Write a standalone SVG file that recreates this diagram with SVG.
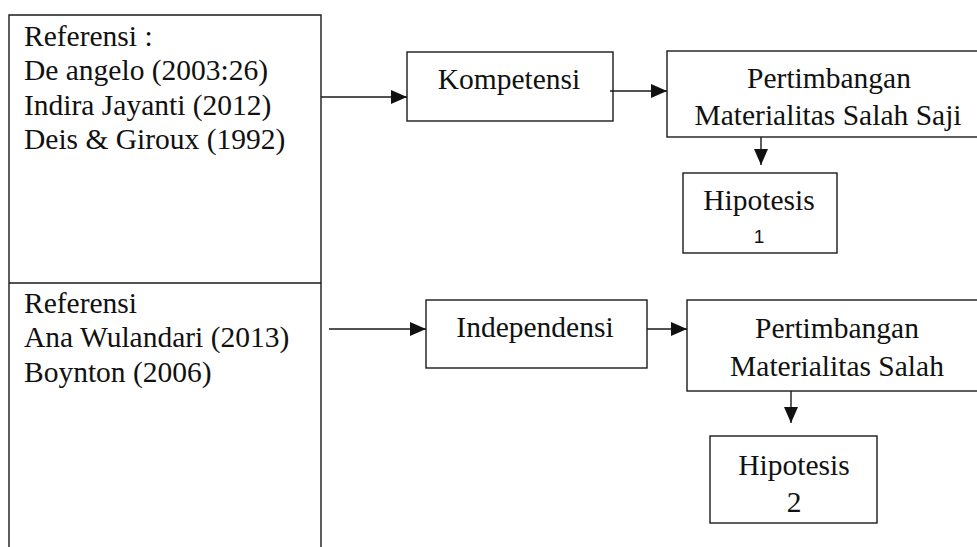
<svg xmlns="http://www.w3.org/2000/svg" width="977" height="547" viewBox="0 0 977 547">
<style>
.box{fill:#fff;stroke:#1a1a1a;stroke-width:1.4}
.t{font-family:"Liberation Serif","Times New Roman",serif;font-size:29.5px;fill:#111}
.c{text-anchor:middle}
.n{font-family:"Liberation Sans",Arial,sans-serif;font-size:19px;fill:#111;text-anchor:middle}
.ln{stroke:#1a1a1a;stroke-width:1.4;fill:none}
</style>
<defs>
<marker id="ah" markerUnits="userSpaceOnUse" markerWidth="16" markerHeight="14" refX="16" refY="7" orient="auto">
<path d="M0,0 L16,7 L0,14 Z" fill="#111"/>
</marker>
</defs>
<rect width="977" height="547" fill="#fff"/>
<g id="ref1">
<path class="ln" d="M9,560 L9,15 L321,15 L321,560"/>
<text class="t" x="24" y="46">Referensi :</text>
<text class="t" x="24" y="80">De angelo (2003:26)</text>
<text class="t" x="24" y="114.5">Indira Jayanti (2012)</text>
<text class="t" x="24" y="149">Deis &amp; Giroux (1992)</text>
</g>
<g id="ref2">
<line class="ln" x1="9" y1="283" x2="321" y2="283"/>
<text class="t" x="24" y="313">Referensi</text>
<text class="t" x="24" y="347">Ana Wulandari (2013)</text>
<text class="t" x="24" y="381.5">Boynton (2006)</text>
</g>
<g id="kompetensi">
<rect class="box" x="407" y="52" width="206" height="69"/>
<text class="t c" x="509" y="89">Kompetensi</text>
</g>
<g id="pms1">
<rect class="box" x="667" y="51" width="330" height="86"/>
<text class="t c" x="829" y="88">Pertimbangan</text>
<text class="t c" x="828" y="125">Materialitas Salah Saji</text>
</g>
<g id="hipotesis1">
<rect class="box" x="683" y="173" width="154" height="80"/>
<text class="t c" x="759" y="210">Hipotesis</text>
<text class="n" x="759" y="243">1</text>
</g>
<g id="independensi">
<rect class="box" x="426" y="300" width="221" height="68"/>
<text class="t c" x="535" y="337">Independensi</text>
</g>
<g id="pms2">
<rect class="box" x="687" y="300" width="310" height="91"/>
<text class="t c" x="837" y="338">Pertimbangan</text>
<text class="t c" x="837" y="376">Materialitas Salah</text>
</g>
<g id="hipotesis2">
<rect class="box" x="710" y="436" width="167" height="87"/>
<text class="t c" x="794" y="475">Hipotesis</text>
<text class="t c" x="794" y="512">2</text>
</g>
<g id="connectors">
<line class="ln" x1="321" y1="97" x2="407" y2="97" marker-end="url(#ah)"/>
<line class="ln" x1="610" y1="91" x2="667" y2="91" marker-end="url(#ah)"/>
<line class="ln" x1="761" y1="137" x2="761" y2="165" marker-end="url(#ah)"/>
<line class="ln" x1="329" y1="329" x2="426" y2="329" marker-end="url(#ah)"/>
<line class="ln" x1="647" y1="329" x2="687" y2="329" marker-end="url(#ah)"/>
<line class="ln" x1="791" y1="391" x2="791" y2="423" marker-end="url(#ah)"/>
</g>
</svg>
